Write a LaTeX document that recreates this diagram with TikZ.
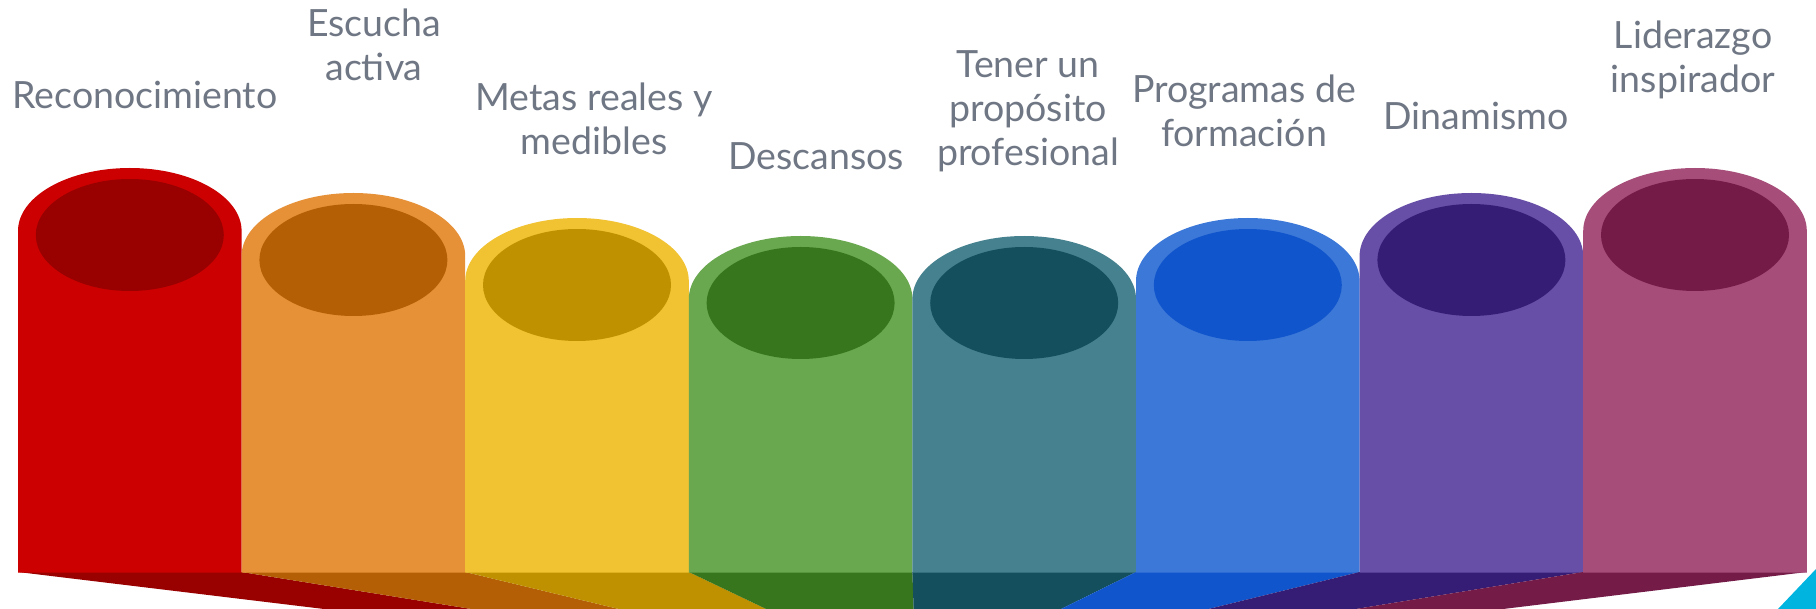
\documentclass[tikz,border=0pt]{standalone}
\usepackage{fontspec}
\setmainfont{Lato}
\definecolor{txt}{HTML}{6F7684}
\definecolor{oA}{HTML}{CC0000}\definecolor{iA}{HTML}{990000}
\definecolor{oB}{HTML}{E69138}\definecolor{iB}{HTML}{B45F06}
\definecolor{oC}{HTML}{F1C232}\definecolor{iC}{HTML}{BF9000}
\definecolor{oD}{HTML}{6AA84F}\definecolor{iD}{HTML}{38761D}
\definecolor{oE}{HTML}{45818E}\definecolor{iE}{HTML}{134F5C}
\definecolor{oF}{HTML}{3C78D8}\definecolor{iF}{HTML}{1155CC}
\definecolor{oG}{HTML}{674EA7}\definecolor{iG}{HTML}{351C75}
\definecolor{oH}{HTML}{A64D79}\definecolor{iH}{HTML}{741B47}
\definecolor{corner}{HTML}{00B4E0}
\tikzset{
  label/.style={text=txt, align=center, font=\fontsize{37.5}{44}\selectfont, inner sep=0pt},
}
\begin{document}
\begin{tikzpicture}[x=1pt,y=-1pt]
\useasboundingbox (0,0) rectangle (1816,609);
\fill[white] (0,0) rectangle (1816,609);
\foreach \k/\o/\i/\t in {0/oA/iA/168,1/oB/iB/193,2/oC/iC/218,3/oD/iD/236,4/oE/iE/236,5/oF/iF/218,6/oG/iG/193,7/oH/iH/168}{
  \pgfmathsetmacro{\L}{18+223.6*\k}
  \pgfmathsetmacro{\R}{18+223.6*(\k+1)}
  \pgfmathsetmacro{\C}{18+223.6*(\k+0.5)}
  \pgfmathsetmacro{\BL}{324+147.4*\k}
  \pgfmathsetmacro{\BR}{324+147.4*(\k+1)}
  \pgfmathsetmacro{\cy}{\t+63}
  \pgfmathsetmacro{\iy}{\t+67}
  % bottom strip piece
  \fill[\i] (\L,572) -- (\R,572) -- (\BR,609) -- (\BL,609) -- cycle;
  % cylinder body
  \fill[\o] (\L,572.5) -- (\L,\cy) arc[start angle=180, end angle=360, x radius=111.8, y radius=63] -- (\R,572.5) -- cycle;
  % inner top
  \fill[\i] (\C,\iy) ellipse[x radius=94, y radius=56];
}
\fill[corner] (1778,609) -- (1816,609) -- (1816,569) -- cycle;
\node[label] (t1) at (145,95) {Reconocimiento};
\node[label] (t2) at (374,45) {Escucha\\activa};
\node[label] (t3) at (594,119) {Metas reales y\\medibles};
\node[label] (t4) at (816,156) {Descansos};
\node[label] (t5) at (1028,111) {Tener un\\propósito\\profesional};
\node[label] (t6) at (1244,111) {Programas de\\formación};
\node[label] (t7) at (1476,116) {Dinamismo};
\node[label] (t8) at (1693,59.5) {Liderazgo\\inspirador};
\end{tikzpicture}
\end{document}
